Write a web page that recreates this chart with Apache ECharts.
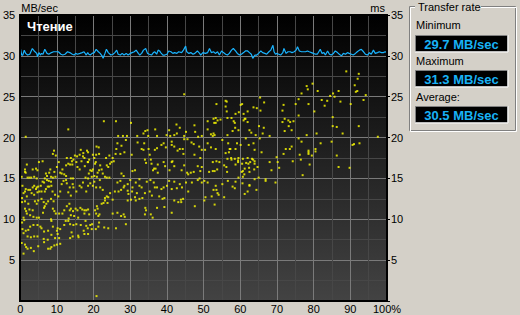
<!DOCTYPE html>
<html>
<head>
<meta charset="utf-8">
<script src="https://cdn.jsdelivr.net/npm/echarts@6/dist/echarts.min.js"></script>
<style>
html,body{margin:0;padding:0;background:#d4d0c8;}
#chart{width:520px;height:315px;}
</style>
</head>
<body>
<div id="chart"></div>
<script>
// ---- data ----
var xTicks = [0, 10, 20, 30, 40, 50, 60, 70, 80, 90, 100];
var yTicks = [0, 5, 10, 15, 20, 25, 30, 35];
var leftUnit = 'MB/sec';
var rightUnit = 'ms';
var testName = 'Чтение';
var statLabels = ['Minimum', 'Maximum', 'Average:'];
var statValues = [29.7, 31.3, 30.5];

// transfer rate (MB/sec) vs position (%)
var transferRate = [
[0,31.0],[0.4,30.1],[0.7,30.1],[1.1,30.7],[1.5,30.3],[2.0,30.1],[2.6,30.2],[3.3,30.9],[3.8,30.6],[4.5,30.3],
[4.7,29.9],[5.1,30.4],[5.5,30.1],[5.8,30.3],[6.2,30.2],[6.7,30.8],[7.3,30.3],[7.8,30.2],[8.5,30.4],[9.1,30.5],
[9.6,30.5],[10.4,30.5],[11.1,30.2],[11.6,30.1],[12.2,30.2],[12.9,30.5],[13.5,30.4],[14.2,30.2],[14.7,30.1],[15.1,30.3],
[15.6,30.2],[16.3,30.3],[16.9,30.4],[17.4,30.5],[18.0,30.1],[18.4,30.4],[18.7,30.2],[19.1,30.1],[19.6,30.3],[20.2,30.4],
[20.7,30.8],[21.3,30.5],[21.8,30.3],[22.3,30.0],[22.6,29.7],[23.1,30.3],[23.5,30.8],[24.0,30.4],[24.7,30.1],[25.3,30.2],
[25.8,30.4],[26.3,30.7],[26.7,30.2],[27.3,30.1],[27.8,30.3],[28.3,30.1],[28.9,30.3],[29.4,30.1],[30.0,30.3],[30.5,30.4],
[31.1,30.5],[31.6,30.7],[32.2,30.3],[32.6,30.1],[33.1,30.3],[33.6,30.7],[34.2,30.9],[34.7,30.3],[35.2,30.2],[35.8,30.1],
[36.3,30.4],[36.7,30.5],[37.2,30.2],[37.6,30.7],[38.0,30.6],[38.3,30.4],[38.9,30.1],[39.4,30.1],[40.0,30.2],[40.5,30.6],
[41.1,30.5],[41.6,30.3],[42.1,30.4],[42.7,30.3],[43.2,30.5],[44.0,30.4],[44.5,30.7],[45.1,31.2],[45.4,30.5],[46.0,30.3],
[46.5,30.4],[47.1,30.2],[47.6,30.3],[48.3,30.6],[48.9,30.3],[49.2,30.1],[49.8,30.4],[50.5,30.3],[51.1,30.4],[51.6,30.9],
[52.1,30.4],[52.7,30.5],[53.2,30.3],[53.8,30.5],[54.3,30.1],[54.9,30.6],[55.4,30.4],[56.0,30.2],[56.5,30.1],[57.0,30.3],
[57.6,30.7],[58.1,30.9],[58.7,30.6],[59.2,30.3],[59.8,30.1],[60.3,30.2],[60.9,30.4],[61.4,30.6],[62.0,30.6],[62.5,30.4],
[63.0,30.2],[63.4,29.7],[64.0,30.1],[64.5,30.1],[65.0,30.3],[65.6,30.6],[66.1,30.4],[66.7,30.3],[67.2,30.2],[67.8,30.5],
[68.3,30.7],[68.9,31.3],[69.2,30.5],[69.6,30.2],[69.9,30.3],[70.5,30.2],[71.0,30.1],[71.6,30.4],[71.9,30.9],[72.5,30.3],
[73.0,30.5],[73.6,30.5],[74.1,30.4],[74.7,30.5],[75.2,30.7],[75.6,31.1],[76.1,30.6],[76.7,30.5],[77.2,30.5],[77.8,30.5],
[78.3,30.6],[78.8,30.5],[79.4,30.4],[79.9,30.3],[80.5,30.2],[81.0,30.2],[81.4,30.5],[81.8,30.8],[82.3,30.3],[82.8,30.4],
[83.2,30.1],[83.8,30.6],[84.3,30.2],[84.8,30.1],[85.4,30.3],[85.9,30.6],[86.5,30.4],[87.0,30.2],[87.6,30.0],[88.1,30.3],
[88.7,30.2],[89.2,30.4],[89.7,30.3],[90.3,30.2],[90.8,30.1],[91.4,30.3],[91.9,30.5],[92.5,30.7],[93.0,30.8],[93.6,30.5],
[94.1,30.2],[94.7,30.1],[95.2,30.4],[95.7,30.2],[96.3,30.7],[96.8,30.3],[97.4,30.4],[97.9,30.5],[98.5,30.4],[99.0,30.4],
[99.5,30.5],[100,30.4]
];

// access time (ms) vs position (%), first half of the disk
var accessFirstHalf = [
[22.8,22.0],[26.1,22.0],[30.2,21.8],[13.1,21.0],[1.5,20.1],[26.7,20.2],[28.0,20.2],[29.1,20.2],[31.9,20.2],[33.6,20.5],
[34.1,20.8],[34.7,20.9],[34.9,20.2],[36.8,21.0],[37.3,20.2],[39.9,20.3],[40.6,20.9],[40.9,20.2],[42.6,21.6],[43.5,21.2],
[44.7,20.2],[45.2,20.7],[47.5,21.5],[47.7,20.7],[48.5,20.1],[49.5,20.2],[42.7,20.5],[42.0,20.3],[44.7,25.3],
[9.2,18.4],[8.9,18.0],[9.7,17.8],[16.5,18.5],[18.2,18.4],[18.5,18.2],[17.2,18.1],[16.2,17.9],[20.8,18.9],[21.4,18.8],
[20.7,17.9],[21.5,18.0],[26.0,18.0],[26.2,18.6],[26.5,19.3],[27.6,19.0],[28.8,19.7],[28.4,18.2],[27.3,18.0],[30.4,17.9],
[32.0,19.4],[33.1,18.6],[33.6,18.5],[33.8,19.3],[35.0,18.6],[35.3,17.9],[36.7,18.5],[37.3,18.7],[38.5,19.1],[39.1,19.3],
[39.7,18.8],[41.3,19.5],[41.3,19.1],[42.0,18.9],[42.9,18.4],[43.5,18.6],[44.3,18.6],[44.7,19.8],[45.6,19.8],[44.5,18.0],
[46.7,19.4],[47.3,19.2],[47.5,17.9],[48.8,18.9],[49.5,18.5],[49.1,17.5],[13.8,17.5],[12.7,17.5],[14.9,17.8],[15.5,17.7],
[17.5,17.5],[18.8,17.3],[19.8,17.9],[20.2,17.5],[18.4,17.0],[23.4,17.5],[24.3,17.8],[25.2,17.5],
[1.8,16.7],[1.3,16.1],[1.3,15.8],[1.5,15.7],[3.4,16.1],[4.3,16.2],[4.7,16.0],[5.1,17.0],[6.1,17.1],[7.0,15.6],
[7.9,15.7],[8.2,16.1],[9.3,15.8],[10.5,17.0],[10.9,15.7],[10.0,16.4],[11.5,16.1],[12.0,15.5],[12.5,16.6],[13.1,16.8],
[13.6,16.7],[14.1,17.1],[14.2,16.7],[14.5,17.3],[15.3,17.0],[15.6,16.4],[16.2,16.1],[16.7,17.1],[17.1,17.7],[17.6,16.5],
[18.5,17.0],[19.1,16.0],[18.7,15.6],[19.5,15.9],[19.8,16.1],[20.4,16.8],[20.6,17.0],[21.5,16.0],[21.1,15.7],[21.8,16.6],
[22.2,16.1],[22.5,15.6],[23.6,16.6],[24.0,16.4],[24.5,16.8],[24.9,17.0],[25.5,17.1],[23.6,15.1],[27.6,15.6],[28.2,15.3],
[30.6,15.9],[31.3,16.0],[34.0,17.3],[34.3,16.9],[35.6,17.3],[35.8,16.8],[36.2,16.0],[36.5,16.2],[36.9,16.2],[37.5,16.7],
[37.5,15.7],[39.1,17.0],[39.5,16.5],[40.7,16.0],[41.3,17.0],[41.5,17.1],[42.0,16.5],[44.0,16.0],[44.7,16.6],[45.5,15.7],
[45.8,15.5],[46.5,15.7],[47.3,15.8],[48.4,16.5],[49.1,15.9],[49.5,16.4],[2.0,15.1],[2.5,15.1],[3.0,15.1],[0.4,15.2],
[3.8,15.2],[4.5,15.0],[6.7,15.0],[7.3,15.3],[8.4,15.2],[8.9,15.1],[9.6,15.2],[11.3,15.6],[12.5,15.3],[13.8,15.0],
[14.4,15.0],[17.8,15.1],[18.5,15.0],[19.5,15.2],[20.2,15.3],[20.9,15.2],[21.7,14.8],[23.1,15.2],[24.3,15.1],
[0.6,14.1],[1.3,13.4],[1.5,13.7],[2.7,13.6],[3.4,13.9],[3.8,14.1],[4.3,13.7],[4.5,13.9],[4.9,14.0],[5.6,14.1],
[6.1,14.6],[6.5,14.5],[7.3,14.8],[7.8,14.7],[8.4,14.6],[8.5,14.1],[7.9,14.0],[7.5,14.0],[7.0,13.7],[6.7,13.4],
[5.8,13.4],[5.2,13.4],[4.7,13.3],[3.8,13.0],[3.1,13.2],[2.2,13.6],[1.8,12.8],[0.9,13.2],[0.5,12.6],[8.8,13.4],
[9.5,13.0],[10.4,12.8],[10.9,13.4],[11.3,14.3],[11.8,14.7],[12.5,14.8],[12.7,14.4],[13.5,13.9],[13.1,13.3],[13.8,12.9],
[14.3,14.3],[14.5,13.9],[15.3,13.4],[16.2,14.1],[16.7,13.9],[17.1,14.5],[18.0,13.4],[18.5,14.1],[19.1,14.4],[19.8,14.1],
[20.2,14.6],[20.7,13.9],[21.8,13.9],[22.5,13.6],[23.1,12.6],[23.6,12.8],[24.0,12.7],[24.5,13.2],[25.8,13.4],[26.8,13.4],
[27.5,13.6],[28.2,13.9],[29.3,13.5],[29.5,13.1],[30.5,13.4],[31.3,12.7],[31.8,13.2],[32.5,14.1],[33.1,13.9],[33.3,12.6],
[34.0,13.2],[34.5,14.6],[35.3,13.4],[35.9,12.9],[36.7,13.9],[37.3,13.9],[37.9,12.8],[38.8,12.5],[39.1,13.9],[40.0,14.1],
[40.6,14.7],[41.3,13.7],[42.0,14.6],[42.7,13.8],[43.5,14.3],[44.1,13.9],[45.2,14.5],[45.8,13.4],[46.8,14.5],[48.4,14.8],
[48.9,15.0],[49.5,14.5],[26.5,14.5],[27.3,14.7],[28.4,14.1],[29.3,14.3],[30.0,14.8],[30.6,13.9],[31.5,14.5],[32.5,14.9],
[35.5,14.8],[36.4,14.5],[38.5,13.7],[39.3,12.6],
[0.5,12.1],[1.3,12.2],[1.3,11.3],[1.6,11.0],[2.2,11.9],[2.5,11.2],[3.4,11.1],[4.0,12.2],[4.5,11.9],[4.9,12.3],
[5.8,12.5],[6.4,12.1],[6.7,11.6],[7.1,11.9],[7.6,12.2],[8.4,12.5],[9.1,12.2],[6.5,11.4],[6.2,10.8],[5.1,10.2],
[4.5,10.2],[3.6,10.3],[2.7,10.5],[1.8,10.7],[0.9,10.2],[8.9,11.3],[9.3,11.0],[9.7,10.7],[10.6,10.7],[11.5,10.7],
[12.0,11.1],[12.7,11.6],[13.4,11.9],[13.5,11.1],[13.8,11.3],[14.4,11.0],[15.1,11.3],[15.6,11.1],[16.4,11.4],[16.9,11.2],
[17.5,11.1],[18.0,11.1],[18.5,11.2],[18.8,10.6],[17.5,10.7],[15.8,10.2],[14.7,10.4],[13.8,10.5],[13.2,10.1],[20.4,11.1],
[20.9,11.6],[21.1,11.3],[20.7,10.7],[21.3,10.4],[21.6,10.6],[22.2,11.9],[22.7,12.0],[23.1,12.3],[23.8,12.0],[25.2,10.7],
[25.2,12.4],[26.5,10.8],[27.5,10.4],[28.2,10.6],[28.5,10.3],[29.3,12.3],[30.2,12.4],[31.5,12.3],[32.5,12.5],[34.1,11.4],
[34.3,11.1],[34.0,10.6],[35.6,10.6],[36.1,10.2],[37.3,11.4],[39.3,11.5],[41.3,10.8],[42.0,12.3],[43.1,12.1],[43.8,12.4],
[44.4,12.5],[43.9,12.1],[47.6,11.6],
[1.1,9.9],[0.5,9.6],[0.6,8.8],[0.9,8.3],[1.5,8.6],[2.2,8.7],[2.7,9.1],[3.6,9.3],[4.7,9.3],[5.5,9.1],
[5.8,8.9],[6.5,8.5],[7.6,8.6],[8.4,10.0],[8.5,9.8],[8.9,9.1],[10.0,8.6],[10.2,8.9],[10.9,8.8],[10.2,8.2],
[10.6,7.7],[12.0,9.3],[12.4,9.8],[13.1,9.8],[13.6,9.4],[14.0,8.4],[14.5,9.3],[15.3,9.4],[15.8,8.0],[16.5,9.3],
[17.3,8.6],[17.5,8.2],[17.8,9.8],[18.0,9.2],[18.4,8.9],[19.1,9.3],[18.5,8.2],[19.5,8.8],[19.6,9.4],[20.6,8.8],
[21.3,9.1],[21.5,9.6],[22.9,9.0],[24.0,8.9],[26.1,8.9],[28.8,9.4],[2.0,7.9],[2.9,7.8],[3.8,7.9],[4.7,7.9],
[6.4,7.6],[7.5,7.5],[8.5,8.1],[9.5,7.7],[13.6,7.7],[14.3,7.9],[15.9,7.8],
[0.4,7.1],[1.3,6.9],[1.6,6.6],[2.0,6.4],[2.9,6.5],[3.7,6.1],[4.9,6.7],[6.5,7.2],[7.6,6.4],[8.2,6.4],
[8.5,6.6],[9.3,6.8],[10.0,6.9],[10.9,7.0],[0.9,5.8],[20.8,0.6]
];

// access time (ms) vs position (%), second half of the disk
var accessSecondHalf = [
[88.9,28.1],[92.3,27.8],[92.0,27.2],[91.2,26.4],[91.5,25.6],[91.9,25.7],[78.1,26.3],[79.7,26.6],[78.4,25.9],[76.7,25.4],
[81.1,25.7],[84.5,25.1],[85.3,25.4],[85.7,25.0],[86.8,25.7],[82.2,24.6],[83.7,24.5],[83.0,23.9],[87.3,24.4],[90.1,24.1],
[93.6,24.6],[94.2,25.2],[75.9,24.7],[75.1,24.1],[78.6,24.1],[71.8,24.0],[71.5,23.3],[65.4,24.9],[66.5,24.3],[65.5,23.3],
[63.6,23.7],[64.5,23.6],[60.1,24.0],[60.5,24.1],[60.9,22.9],[59.6,23.1],[62.0,23.2],[56.0,24.5],[56.3,24.4],[56.0,23.8],
[56.3,23.2],[53.5,24.1],[51.1,22.0],[52.7,22.3],[53.3,22.4],[53.3,21.8],[52.9,21.8],[53.8,22.1],[54.6,22.2],[56.5,22.4],
[57.6,22.4],[58.2,22.0],[58.5,21.8],[58.7,22.9],[61.2,22.3],[61.4,22.3],[60.9,22.1],[62.0,21.9],[58.6,21.2],[59.5,20.9],
[57.9,20.8],[56.5,20.3],[51.1,21.0],[52.0,20.4],[52.5,20.2],[53.0,20.3],[52.7,20.5],[55.1,19.7],[56.7,19.3],[57.3,18.6],
[58.7,18.6],[59.1,19.3],[60.1,19.1],[61.5,19.9],[62.3,19.1],[62.5,20.9],[63.0,20.6],[64.2,20.3],[65.1,21.4],[66.4,21.2],
[66.1,20.5],[68.0,20.2],[65.3,19.9],[63.6,19.3],[63.9,18.5],[65.8,18.2],[80.2,23.2],[75.9,22.7],[71.5,21.9],[72.1,22.3],
[73.1,22.1],[73.6,21.9],[74.5,22.0],[73.2,21.4],[74.0,20.9],[72.1,20.8],[85.2,22.5],[85.2,21.4],[86.3,21.3],[87.9,20.5],
[92.3,21.4],[97.5,20.1],[80.8,20.5],[78.1,20.3],[75.9,19.9],[76.7,19.5],[74.0,18.9],[73.5,18.6],[72.4,18.6],[71.8,18.0],
[76.2,17.9],[78.6,18.4],[78.6,18.2],[78.6,18.0],[79.5,17.8],[80.5,18.6],[80.5,18.3],[81.9,19.3],[84.9,19.5],[90.6,19.1],
[91.0,19.2],[92.5,19.3],[86.3,17.8],[76.5,17.3],[74.3,17.1],[78.9,16.7],[86.8,16.4],[89.8,16.3],[50.4,18.5],[51.1,19.3],
[52.0,18.8],[53.3,18.6],[56.0,18.1],[56.9,18.2],[57.1,18.6],[56.5,17.4],[57.5,17.5],[57.6,17.3],[58.5,17.4],[59.5,17.5],
[59.4,17.0],[60.7,17.4],[62.0,17.5],[63.2,17.4],[63.5,17.3],[63.9,17.1],[63.9,16.8],[64.7,16.4],[60.5,16.8],[61.6,16.9],
[62.2,16.8],[62.7,17.0],[52.5,17.0],[53.5,17.1],[54.3,17.0],[51.5,15.8],[52.5,15.9],[53.0,15.9],[53.7,16.1],[55.6,16.6],
[56.2,16.4],[56.4,15.8],[58.7,16.7],[59.4,17.2],[60.4,15.8],[60.7,15.9],[61.2,16.2],[62.4,16.3],[62.5,15.8],[61.1,15.5],
[59.5,15.1],[60.7,15.2],[63.8,16.1],[68.0,17.0],[70.2,17.0],[70.6,16.3],[69.9,17.6],[68.5,16.0],[66.9,14.9],[66.9,14.7],
[69.6,14.5],[65.0,15.1],[63.9,14.9],[62.5,14.2],[62.5,14.1],[64.4,13.6],[62.0,13.4],[61.2,13.1],[60.6,14.4],[58.7,14.6],
[57.9,14.0],[58.5,13.8],[56.6,14.7],[55.1,14.3],[53.3,14.1],[51.1,14.5],[50.2,14.7],[52.7,13.6],[53.5,13.6],[53.8,13.2],
[54.1,13.0],[52.2,12.8],[50.5,12.7],[50.2,12.3],[53.0,11.8],[55.6,12.7],[77.0,15.4]
];

// ---- chart ----
var chart = echarts.init(document.getElementById('chart'), null, {renderer: 'svg', width: 520, height: 315});

var G = {left: 20, top: 15, width: 367, height: 286};
var FONT = "'Liberation Sans', Arial, sans-serif";
var panelBg = '#d4d0c8';
var valueColor = '#18b2f6';

function valueBox(i, y) {
  return [
    {type: 'rect', shape: {x: 415.5, y: y - 0.5, width: 92, height: 16}, style: {fill: '#000', stroke: '#808080', lineWidth: 1}},
    {type: 'line', shape: {x1: 415, y1: y + 16, x2: 508, y2: y + 16}, style: {stroke: '#fff', lineWidth: 1}},
    {type: 'line', shape: {x1: 508, y1: y - 1, x2: 508, y2: y + 16}, style: {stroke: '#fff', lineWidth: 1}},
    {type: 'text', x: 461.5, y: y + 8, style: {text: statValues[i].toFixed(1) + ' MB/sec', fill: valueColor,
      font: 'bold 13px ' + FONT, textAlign: 'center', textVerticalAlign: 'middle'}}
  ];
}

var graphics = [
  // plot frame
  {type: 'rect', z: 100, shape: {x: G.left, y: G.top, width: G.width, height: G.height},
    style: {fill: 'none', stroke: '#000', lineWidth: 2}},
  // test name
  {type: 'text', z: 101, x: 27, y: 26, style: {text: testName, fill: '#fff', font: 'bold 13px ' + FONT, textVerticalAlign: 'middle'}},
  // group box (etched)
  {type: 'rect', shape: {x: 409.5, y: 6.5, width: 106, height: 124}, style: {fill: 'none', stroke: '#808080', lineWidth: 1}},
  {type: 'rect', shape: {x: 410.5, y: 7.5, width: 106, height: 124}, style: {fill: 'none', stroke: '#fff', lineWidth: 1}},
  {type: 'rect', shape: {x: 415, y: 1, width: 66, height: 12}, style: {fill: panelBg}},
  {type: 'text', x: 418, y: 7, style: {text: 'Transfer rate', fill: '#000', font: '11px ' + FONT, textVerticalAlign: 'middle'}},
  {type: 'text', x: 416, y: 24.5, style: {text: statLabels[0], fill: '#000', font: '11px ' + FONT, textVerticalAlign: 'middle'}},
  {type: 'text', x: 416, y: 60.5, style: {text: statLabels[1], fill: '#000', font: '11px ' + FONT, textVerticalAlign: 'middle'}},
  {type: 'text', x: 416, y: 96.5, style: {text: statLabels[2], fill: '#000', font: '11px ' + FONT, textVerticalAlign: 'middle'}}
].concat(valueBox(0, 36), valueBox(1, 71), valueBox(2, 107));

var axisLabelStyle = {color: '#000', fontSize: 11, fontFamily: FONT};

var option = {
  backgroundColor: panelBg,
  animation: false,
  grid: {
    left: G.left, top: G.top, width: G.width, height: G.height,
    show: true, borderWidth: 0,
    backgroundColor: new echarts.graphic.LinearGradient(0, 0, 0, 1, [
      {offset: 0, color: '#000000'},
      {offset: 1, color: '#434343'}
    ])
  },
  xAxis: {
    type: 'value', min: xTicks[0], max: xTicks[xTicks.length - 1], interval: 10,
    axisLine: {show: false}, axisTick: {show: false},
    axisLabel: Object.assign({margin: 2, showMinLabel: true, showMaxLabel: true,
      formatter: function (v) { return v === 100 ? '100%' : String(v); }}, axisLabelStyle),
    splitLine: {show: true, lineStyle: {color: '#7a7a7a', width: 1}},
    minorTick: {show: false, splitNumber: 2},
    minorSplitLine: {show: true, lineStyle: {color: '#474747', width: 1}}
  },
  yAxis: [
    {
      type: 'value', min: yTicks[0], max: yTicks[yTicks.length - 1], interval: 5, position: 'left',
      name: leftUnit, nameLocation: 'end', nameGap: 2,
      nameTextStyle: {color: '#000', fontSize: 11, fontFamily: FONT, align: 'left', verticalAlign: 'bottom', padding: [0, 0, 0, 1]},
      axisLine: {show: false}, axisTick: {show: false},
      axisLabel: Object.assign({margin: 5, formatter: function (v) { return v === 0 ? '' : String(v); }}, axisLabelStyle),
      splitLine: {show: true, lineStyle: {color: '#7a7a7a', width: 1}},
      minorTick: {show: false, splitNumber: 2},
      minorSplitLine: {show: true, lineStyle: {color: '#474747', width: 1}}
    },
    {
      type: 'value', min: yTicks[0], max: yTicks[yTicks.length - 1], interval: 5, position: 'right',
      name: rightUnit, nameLocation: 'end', nameGap: 2,
      nameTextStyle: {color: '#000', fontSize: 11, fontFamily: FONT, align: 'right', verticalAlign: 'bottom', padding: [0, 2, 0, 0]},
      axisLine: {show: false},
      axisTick: {show: true, length: 3, lineStyle: {color: '#000'}},
      axisLabel: Object.assign({margin: 4, formatter: function (v) { return v === 0 ? '' : String(v); }}, axisLabelStyle),
      splitLine: {show: false}
    }
  ],
  series: [
    {
      type: 'scatter', yAxisIndex: 1, symbol: 'rect', symbolSize: 2,
      itemStyle: {color: '#ffff00'}, data: accessFirstHalf.concat(accessSecondHalf), z: 3
    },
    {
      type: 'line', yAxisIndex: 0, showSymbol: false, symbol: 'none',
      lineStyle: {color: '#1ab4ff', width: 1.2}, data: transferRate, z: 4
    }
  ],
  graphic: graphics
};
chart.setOption(option);
</script>
</body>
</html>
